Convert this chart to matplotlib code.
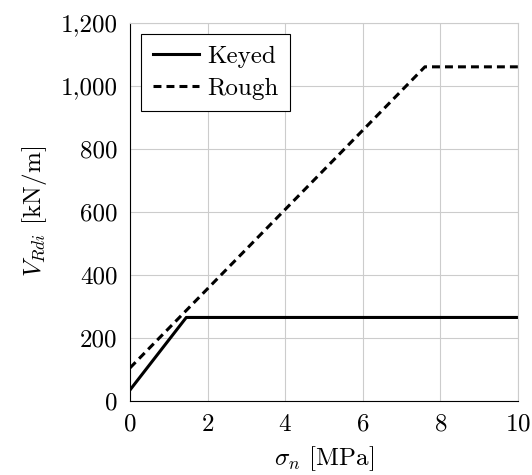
import matplotlib.pyplot as plt
from matplotlib.ticker import FuncFormatter

plt.rcParams['font.family'] = 'serif'
plt.rcParams['font.serif'] = ['cmr10', 'DejaVu Serif']
plt.rcParams['mathtext.fontset'] = 'cm'
plt.rcParams['axes.formatter.use_mathtext'] = True

# interface shear resistance vs normal stress
keyed_x = [0, 1.45, 10]
keyed_y = [35, 265, 265]
rough_x = [0, 7.6, 10]
rough_y = [105, 1060, 1060]

x_ticks = [0, 2, 4, 6, 8, 10]
y_ticks = [0, 200, 400, 600, 800, 1000, 1200]

grid_col = '#cccccc'

fig = plt.figure(figsize=(5.32, 4.75), dpi=100)
ax = fig.add_axes([130 / 532, 74 / 475, 388 / 532, 378.3 / 475])

ax.plot(keyed_x, keyed_y, color='black', lw=2.2, label='Keyed')
ax.plot(rough_x, rough_y, color='black', lw=2.2, dashes=(2.6, 1.65), label='Rough')

ax.set_xlim(0, 10)
ax.set_ylim(0, 1200)
ax.set_xticks(x_ticks)
ax.set_yticks(y_ticks)
ax.yaxis.set_major_formatter(FuncFormatter(lambda v, p: f'{int(v):,}'))
ax.grid(True, color=grid_col, lw=0.8)
ax.set_axisbelow(True)
ax.tick_params(length=0, labelsize=18, pad=9)

# only left and bottom axis lines are black
for side in ['left', 'bottom']:
    ax.spines[side].set_linewidth(0.8)
for side in ['top', 'right']:
    ax.spines[side].set_color(grid_col)
    ax.spines[side].set_linewidth(0.8)

ax.set_xlabel(r'$\sigma_n$ [MPa]', fontsize=18, labelpad=6)
ax.set_ylabel(r'$V_{Rdi}$ [kN/m]', fontsize=18, labelpad=8)

leg = ax.legend(loc='upper left', fontsize=18, frameon=True, fancybox=False,
                edgecolor='black', framealpha=1, handlelength=1.85,
                handletextpad=0.35, borderpad=0.45, borderaxespad=0.45,
                labelspacing=0.4)
leg.get_frame().set_linewidth(0.8)

fig.savefig('out.png', dpi=100)
